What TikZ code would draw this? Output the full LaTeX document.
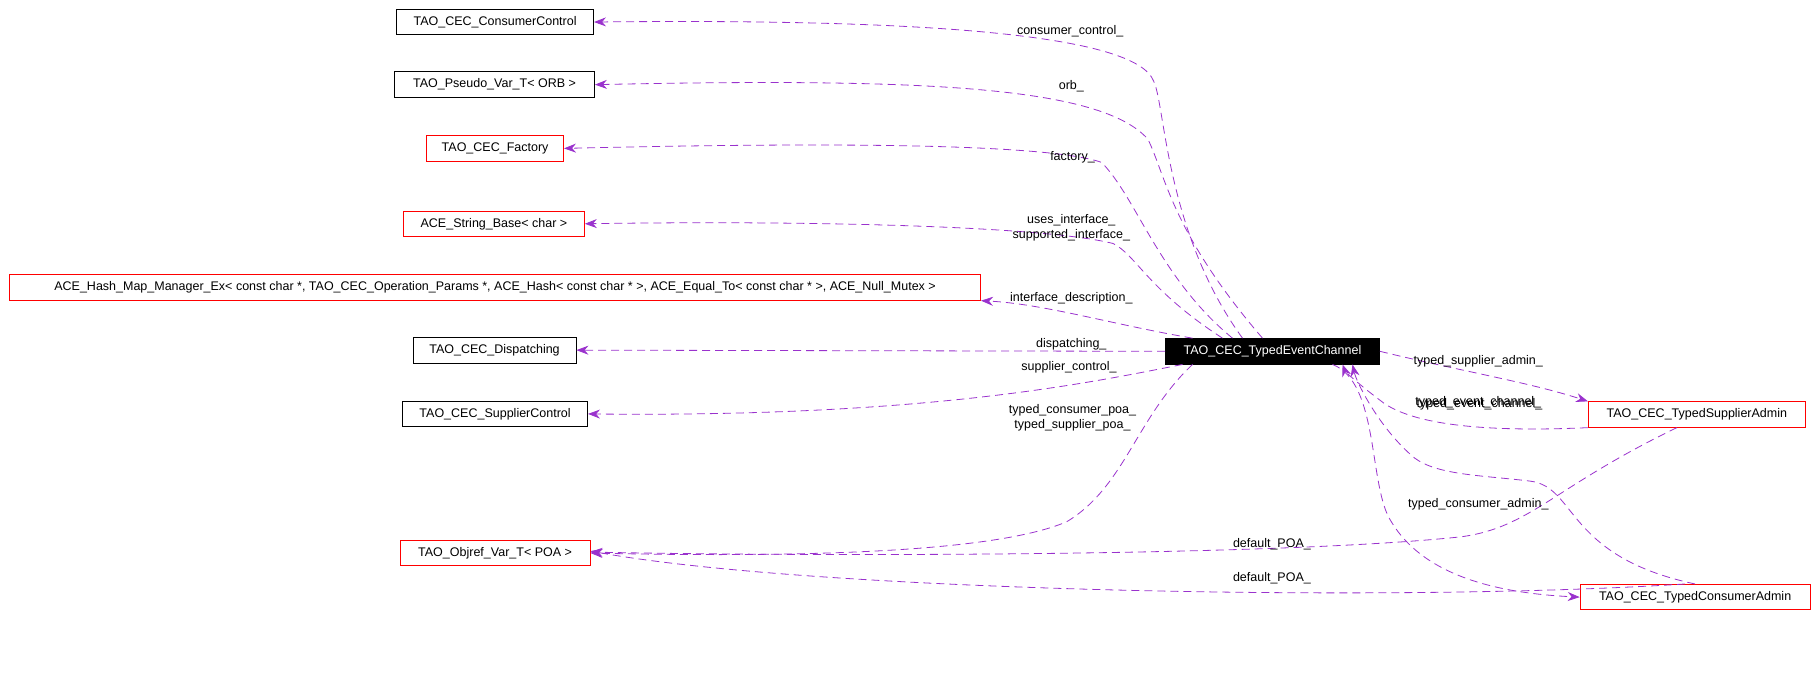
\documentclass[tikz,border=0pt]{standalone}
\usepackage{fontspec}
\setmainfont{Liberation Sans}
\usetikzlibrary{arrows.meta}
\definecolor{edgec}{RGB}{154,50,205}
\begin{document}
\begin{tikzpicture}[x=1.1594pt,y=-1.1594pt,
  box/.style={draw=black,line width=0.8pt,font=\fontsize{12.5}{14}\selectfont,inner sep=0pt,minimum height=25.5pt,anchor=center},
  rbox/.style={box,draw=red},
  rel/.style={draw=edgec,line width=0.8pt,dash pattern=on 8pt off 5pt,-{Stealth[length=12pt,width=9pt]},fill=none},
  lab/.style={font=\fontsize{12.5}{14}\selectfont,inner sep=0pt}]
\useasboundingbox (0,0) rectangle (1568,592.6);
\node[box,minimum width=197pt] (cc) at (427,19) {TAO\_CEC\_ConsumerControl};
\node[box,minimum width=200pt] (pv) at (426.5,73) {TAO\_Pseudo\_Var\_T< ORB >};
\node[rbox,minimum width=137pt] (fa) at (427,128) {TAO\_CEC\_Factory};
\node[rbox,minimum width=181pt] (sb) at (426,193) {ACE\_String\_Base< char >};
\node[rbox,minimum width=971pt] (hm) at (427,248) {ACE\_Hash\_Map\_Manager\_Ex< const char *, TAO\_CEC\_Operation\_Params *, ACE\_Hash< const char * >, ACE\_Equal\_To< const char * >, ACE\_Null\_Mutex >};
\node[box,minimum width=163pt] (di) at (426.5,302) {TAO\_CEC\_Dispatching};
\node[box,minimum width=185pt] (sc) at (427,357) {TAO\_CEC\_SupplierControl};
\node[rbox,minimum width=190pt] (ob) at (427,477) {TAO\_Objref\_Var\_T< POA >};
\node[box,fill=black,text=white,minimum width=214pt] (ec) at (1097.5,303) {TAO\_CEC\_TypedEventChannel};
\node[rbox,minimum width=217pt] (sa) at (1463.5,357.5) {TAO\_CEC\_TypedSupplierAdmin};
\node[rbox,minimum width=230pt] (ca) at (1462,515) {TAO\_CEC\_TypedConsumerAdmin};

\draw[rel] ([xshift=-30pt]ec.north) .. controls (1005,200) and (1005,90) .. (995,70) .. controls (980,30) and (800,16) .. (cc.east);
\draw[rel] ([xshift=-10pt]ec.north) .. controls (1010,200) and (1005,150) .. (990,120) .. controls (950,75) and (800,67) .. (pv.east);
\draw[rel] ([xshift=-40pt]ec.north) .. controls (1000,240) and (980,170) .. (950,140) .. controls (900,123) and (700,123) .. (fa.east);
\draw[rel] ([xshift=-50pt]ec.north) .. controls (990,250) and (980,220) .. (960,210) .. controls (900,195) and (700,190) .. (sb.east);
\draw[rel] ([xshift=-80pt]ec.north) .. controls (960,280) and (900,262) .. (hm.south east);
\draw[rel] (ec.west) -- (di.east);
\draw[rel] ([xshift=-90pt]ec.south) .. controls (940,330) and (800,360) .. (sc.east);
\draw[rel] ([xshift=-80pt]ec.south) .. controls (980,360) and (970,420) .. (920,450) .. controls (850,480) and (650,480) .. (ob.east);
\draw[rel] (ec.east) .. controls (1260,320) and (1320,330) .. (sa.north west);
\draw[rel] (sa.south west) .. controls (1300,372) and (1220,370) .. (1190,345) .. controls (1170,330) and (1160,320) .. ([xshift=70pt]ec.south);
\draw[rel] (ca.north) .. controls (1350,480) and (1360,420) .. (1320,415) .. controls (1280,410) and (1240,410) .. (1220,395) .. controls (1190,370) and (1170,330) .. ([xshift=80pt]ec.south);
\draw[rel] ([xshift=60pt]ec.south) .. controls (1190,330) and (1180,420) .. (1200,450) .. controls (1230,500) and (1300,512) .. (ca.west);
\draw[rel] ([xshift=-20pt]sa.south) .. controls (1340,420) and (1320,455) .. (1260,463) .. controls (1100,480) and (700,480) .. ([yshift=1pt]ob.east);
\draw[rel] ([xshift=-10pt]ca.north) .. controls (1200,520) and (700,510) .. ([yshift=2pt]ob.east);

\node[lab] (l1) at (923,27) {consumer\_control\_};
\node[lab] (l2) at (924,74) {orb\_};
\node[lab] (l3) at (925,136) {factory\_};
\node[lab] (l4) at (924,190) {uses\_interface\_};
\node[lab] (l5) at (924,203) {supported\_interface\_};
\node[lab] (l6) at (924,257) {interface\_description\_};
\node[lab] (l7) at (924,297) {dispatching\_};
\node[lab] (l8) at (922,317) {supplier\_control\_};
\node[lab] (l9) at (925,354) {typed\_consumer\_poa\_};
\node[lab] (l10) at (925,367) {typed\_supplier\_poa\_};
\node[lab] (l11) at (1275,312) {typed\_supplier\_admin\_};
\node[lab] (l12) at (1275,347) {typed\_event\_channel\_};
\node[lab] (l13) at (1276,349) {typed\_event\_channel\_};
\node[lab] (l14) at (1275,435) {typed\_consumer\_admin\_};
\node[lab] (l15) at (1097,469) {default\_POA\_};
\node[lab] (l16) at (1097,499) {default\_POA\_};
\end{tikzpicture}
\end{document}
